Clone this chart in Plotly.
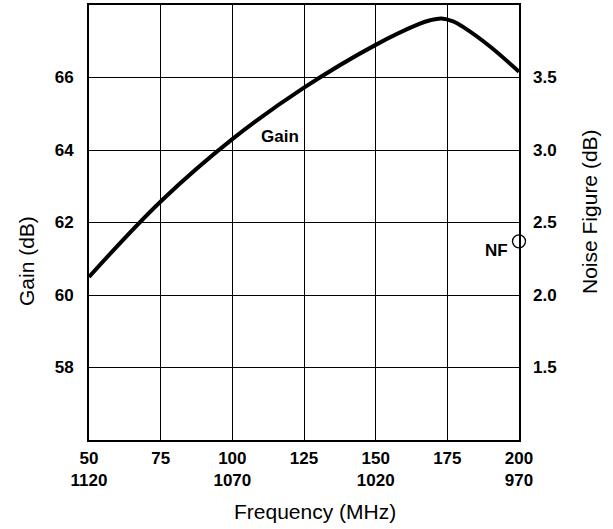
import plotly.graph_objects as go

# Data
freq = [50, 75, 100, 125, 150, 165, 169, 173, 177, 181, 190, 200]
gain = [60.5, 62.58, 64.3, 65.72, 66.9, 67.47, 67.58, 67.63, 67.55, 67.37, 66.85, 66.16]

nf_freq = [200]
nf_value = [2.37]

x_ticks = [50, 75, 100, 125, 150, 175, 200]
x_ticklabels = ["50<br>1120", "75", "100<br>1070", "125", "150<br>1020", "175", "200<br>970"]
gain_ticks = [58, 60, 62, 64, 66]
nf_ticks = [1.5, 2.0, 2.5, 3.0, 3.5]
nf_ticklabels = ["1.5", "2.0", "2.5", "3.0", "3.5"]

FONT = "Liberation Sans, Arial, sans-serif"

fig = go.Figure()
fig.add_trace(go.Scatter(x=freq, y=gain, mode="lines",
                         line=dict(color="black", width=4, shape="spline", smoothing=1.0),
                         showlegend=False, hoverinfo="skip"))
fig.add_trace(go.Scatter(x=nf_freq, y=nf_value, yaxis="y2", mode="markers",
                         marker=dict(symbol="circle", size=13, color="white", line=dict(color="black", width=1.3)),
                         cliponaxis=False, showlegend=False))

W, H = 613, 529
L, R, T, B = 89, 94, 5, 89
pw, ph = W - L - R, H - T - B

def px(xp):
    return (xp - L) / pw

def py(yp):
    return (H - B - yp) / ph

tickfont = dict(family=FONT, size=17, weight="bold", color="black")
titlefont = dict(family=FONT, size=21, color="black")
labelfont = dict(family=FONT, size=17, weight="bold", color="black")

fig.update_layout(
    width=W, height=H,
    margin=dict(l=L, r=R, t=T, b=B, autoexpand=False),
    paper_bgcolor="white", plot_bgcolor="white",
    font=dict(family=FONT, color="black"),
    xaxis=dict(range=[50, 200], tickvals=x_ticks, ticktext=x_ticklabels,
               showgrid=True, gridcolor="black", gridwidth=1.2,
               showline=True, linecolor="black", linewidth=1.8, mirror=True,
               ticks="", ticklabelstandoff=2, zeroline=False, automargin=False,
               tickfont=tickfont),
    yaxis=dict(range=[56, 68], tickvals=gain_ticks,
               showgrid=True, gridcolor="black", gridwidth=1.2,
               showline=True, linecolor="black", linewidth=1.8, mirror=True,
               ticks="", ticklabelstandoff=10, zeroline=False, automargin=False,
               tickfont=tickfont),
    yaxis2=dict(range=[1, 4], tickvals=nf_ticks, ticktext=nf_ticklabels, overlaying="y", side="right",
                showgrid=False, showline=False, ticks="", ticklabelstandoff=13, zeroline=False,
                automargin=False, tickfont=tickfont),
    annotations=[
        dict(text="Gain (dB)", x=px(26), y=py(261), xref="paper", yref="paper", showarrow=False,
             textangle=-90, font=titlefont, xanchor="center", yanchor="middle"),
        dict(text="Noise Figure (dB)", x=px(590), y=py(212), xref="paper", yref="paper", showarrow=False,
             textangle=-90, font=titlefont, xanchor="center", yanchor="middle"),
        dict(text="Frequency (MHz)", x=px(315), y=py(512), xref="paper", yref="paper", showarrow=False,
             font=titlefont, xanchor="center", yanchor="middle"),
        dict(text="Gain", x=116.6, y=64.36, xref="x", yref="y", showarrow=False,
             font=labelfont, xanchor="center", yanchor="middle"),
        dict(text="NF", x=192.3, y=61.23, xref="x", yref="y", showarrow=False,
             font=labelfont, xanchor="center", yanchor="middle"),
    ],
)

fig.write_html("out.html", config={"displayModeBar": False},
               post_script="document.body.style.margin='0px';document.body.style.padding='0px';document.body.style.overflow='hidden';")
